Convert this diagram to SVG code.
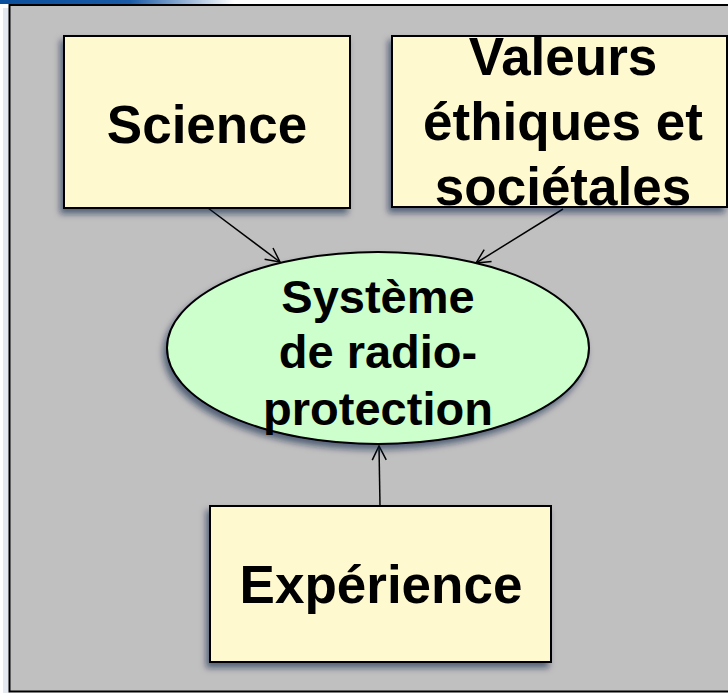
<svg xmlns="http://www.w3.org/2000/svg" width="728" height="693" viewBox="0 0 728 693">
<defs>
<linearGradient id="topbar" x1="0" y1="0" x2="1" y2="0">
<stop offset="0" stop-color="#0a4f9e"/>
<stop offset="0.5" stop-color="#1a5aa6"/>
<stop offset="0.9" stop-color="#ffffff" stop-opacity="1"/>
</linearGradient>
<filter id="shadow" x="-10%" y="-10%" width="120%" height="130%">
<feGaussianBlur in="SourceAlpha" stdDeviation="3"/>
<feOffset dx="-3" dy="5" result="b"/>
<feFlood flood-color="#0a1a40" flood-opacity="0.55"/>
<feComposite in2="b" operator="in"/>
<feMerge><feMergeNode/><feMergeNode in="SourceGraphic"/></feMerge>
</filter>
<marker id="arrow" markerWidth="18" markerHeight="18" refX="15" refY="8" orient="auto" markerUnits="userSpaceOnUse">
<path d="M1,1 L15,8 L1,15" fill="none" stroke="#000" stroke-width="1.5"/>
</marker>
<style>
.box{fill:#fff9cf;stroke:#000;stroke-width:2}
.ell{fill:#ccffcc;stroke:#000;stroke-width:2}
.lbl{font-family:"Liberation Sans",Arial,sans-serif;font-weight:bold;fill:#000;text-anchor:middle}
.big{font-size:53px}
.mid{font-size:47px}
.conn{stroke:#000;stroke-width:1.5;fill:none;marker-end:url(#arrow)}
</style>
</defs>
<rect x="0" y="0" width="728" height="693" fill="#ffffff"/>
<rect x="0" y="0" width="260" height="4" fill="url(#topbar)"/>
<rect x="3" y="8" width="7" height="685" fill="#e4e8f0"/>
<rect x="9.5" y="5" width="730" height="686.5" fill="#c0c0c0" stroke="#000" stroke-width="2"/>
<g id="connectors">
<line class="conn" x1="208" y1="208" x2="280" y2="262"/>
<line class="conn" x1="563" y1="209" x2="476" y2="263"/>
<line class="conn" x1="380" y1="506" x2="379" y2="446"/>
</g>
<g id="science">
<rect class="box" x="64" y="36" width="286" height="172" filter="url(#shadow)"/>
<text class="lbl big" x="207" y="143">Science</text>
</g>
<g id="valeurs">
<rect class="box" x="392" y="36" width="335" height="171" filter="url(#shadow)"/>
<text class="lbl big" x="563" y="75">Valeurs</text>
<text class="lbl big" x="563" y="140">éthiques et</text>
<text class="lbl big" x="563" y="205">sociétales</text>
</g>
<g id="systeme">
<ellipse class="ell" cx="378" cy="348" rx="211" ry="96" filter="url(#shadow)"/>
<text class="lbl mid" x="378" y="313">Système</text>
<text class="lbl mid" x="378" y="368">de radio-</text>
<text class="lbl mid" x="378" y="425">protection</text>
</g>
<g id="experience">
<rect class="box" x="210" y="506" width="341" height="156" filter="url(#shadow)"/>
<text class="lbl big" x="381" y="603">Expérience</text>
</g>
</svg>
